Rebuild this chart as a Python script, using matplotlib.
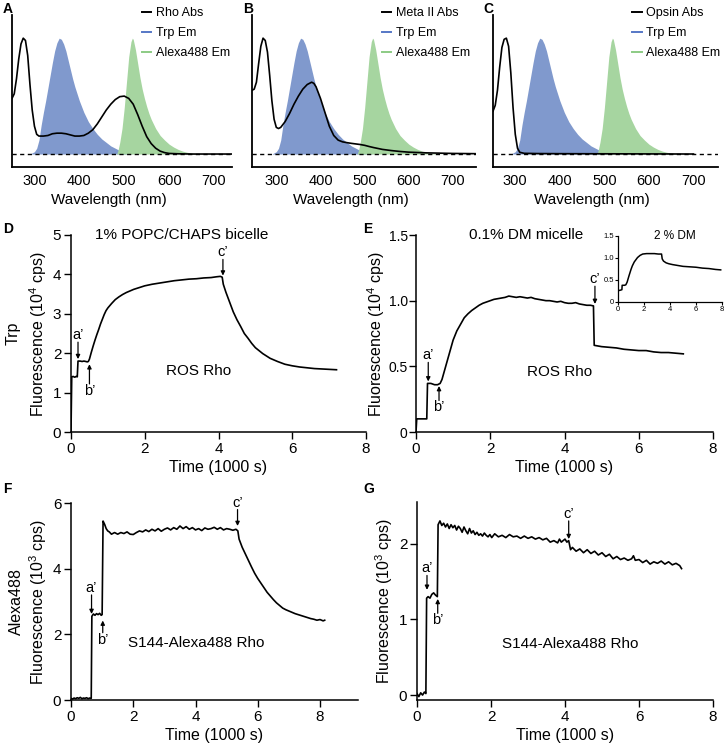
import matplotlib
matplotlib.use("Agg")
import matplotlib.pyplot as plt
from matplotlib.lines import Line2D

plt.rcParams['font.family'] = ['Liberation Sans', 'DejaVu Sans']
plt.rcParams['mathtext.fontset'] = 'custom'
plt.rcParams['mathtext.rm'] = 'Liberation Sans'
plt.rcParams['mathtext.it'] = 'Liberation Sans:italic'
plt.rcParams['mathtext.bf'] = 'Liberation Sans:bold'
plt.rcParams['mathtext.default'] = 'regular'

# ---------------- spectra (normalised) ----------------
trp_wl = [290, 295, 300, 305, 310, 315, 320, 325, 330, 335, 340, 345, 350, 355, 360, 365, 370,
          375, 380, 385, 390, 395, 400, 405, 410, 420, 430, 440, 450, 460, 470, 480, 490, 500, 510, 520]
trp_em = [0, 0.01, 0.02, 0.05, 0.12, 0.25, 0.36, 0.46, 0.57, 0.68, 0.79, 0.89, 0.96, 1.0, 0.99, 0.95, 0.89,
          0.81, 0.73, 0.65, 0.58, 0.52, 0.46, 0.41, 0.36, 0.28, 0.22, 0.17, 0.13, 0.10, 0.07, 0.05, 0.03, 0.015, 0.005, 0]

alexa_wl = [483, 486, 490, 495, 500, 505, 510, 515, 518, 520, 525, 530, 535, 540, 545, 550, 555, 560,
            570, 580, 590, 600, 610, 620, 630, 640, 650, 660, 680]
alexa_em = [0, 0.03, 0.1, 0.22, 0.4, 0.62, 0.84, 0.97, 1.0, 0.99, 0.9, 0.78, 0.66, 0.56, 0.48, 0.41, 0.35, 0.30,
            0.22, 0.16, 0.12, 0.085, 0.06, 0.04, 0.025, 0.015, 0.008, 0.003, 0]

rho_wl = [250, 255, 260, 265, 270, 275, 280, 285, 290, 295, 300, 305, 310, 320, 330, 340, 350, 360, 370,
          380, 390, 400, 410, 420, 430, 440, 450, 460, 470, 480, 490, 500, 510, 520, 530, 540, 550, 560,
          570, 580, 590, 600, 620, 650, 700, 740]
rho_abs = [0.48, 0.52, 0.65, 0.82, 0.95, 1.0, 0.98, 0.85, 0.6, 0.38, 0.24, 0.17, 0.155, 0.155, 0.16, 0.175,
           0.18, 0.18, 0.175, 0.165, 0.155, 0.155, 0.16, 0.18, 0.21, 0.26, 0.32, 0.38, 0.43, 0.47, 0.495, 0.5,
           0.48, 0.43, 0.34, 0.24, 0.15, 0.09, 0.05, 0.025, 0.012, 0.005, 0.002, 0, 0, 0]

meta_wl = [245, 250, 255, 260, 265, 270, 275, 280, 285, 290, 295, 300, 305, 310, 320, 330, 340, 350, 360,
           370, 380, 385, 390, 400, 410, 420, 430, 440, 450, 460, 470, 480, 490, 500, 510, 520, 530, 540,
           560, 580, 600, 640, 700, 750]
meta_abs = [0.55, 0.56, 0.62, 0.78, 0.93, 1.0, 0.98, 0.88, 0.68, 0.46, 0.3, 0.23, 0.22, 0.23, 0.28, 0.35,
            0.43, 0.5, 0.56, 0.6, 0.62, 0.61, 0.58, 0.48, 0.36, 0.24, 0.16, 0.12, 0.105, 0.098, 0.092, 0.087,
            0.082, 0.075, 0.065, 0.056, 0.048, 0.04, 0.03, 0.022, 0.016, 0.01, 0.005, 0.003]

opsin_wl = [250, 255, 260, 265, 270, 275, 280, 285, 290, 295, 300, 305, 310, 320, 350, 400, 500, 600, 700]
opsin_abs = [0.37, 0.42, 0.55, 0.75, 0.92, 0.99, 1.0, 0.93, 0.7, 0.4, 0.17, 0.05, 0.015, 0.006, 0.004,
             0.003, 0.002, 0.001, 0]

wl_ticks = [300, 400, 500, 600, 700]

# ---------------- kinetics ----------------
D_t = [0, 0.02, 0.06, 0.1, 0.14, 0.17, 0.19, 0.25, 0.3, 0.35, 0.4, 0.44, 0.47, 0.5, 0.55, 0.6, 0.65, 0.7,
       0.75, 0.8, 0.85, 0.9, 0.95, 1.0, 1.1, 1.2, 1.3, 1.4, 1.5, 1.6, 1.7, 1.8, 1.9, 2.0, 2.2, 2.4, 2.6, 2.8,
       3.0, 3.2, 3.4, 3.6, 3.8, 3.95, 4.05, 4.1, 4.13, 4.2, 4.3, 4.4, 4.5, 4.6, 4.7, 4.8, 4.9, 5.0, 5.2, 5.4,
       5.6, 5.8, 6.0, 6.2, 6.4, 6.6, 6.8, 7.0, 7.2]
D_f = [0, 1.4, 1.41, 1.39, 1.41, 1.4, 1.8, 1.8, 1.79, 1.8, 1.79, 1.78, 1.79, 1.85, 2.02, 2.18, 2.33, 2.47,
       2.6, 2.74, 2.86, 2.98, 3.08, 3.15, 3.26, 3.36, 3.43, 3.49, 3.54, 3.58, 3.62, 3.65, 3.68, 3.71, 3.75,
       3.78, 3.81, 3.84, 3.86, 3.88, 3.89, 3.91, 3.92, 3.94, 3.95, 3.93, 3.75, 3.55, 3.3, 3.05, 2.85, 2.68,
       2.5, 2.38, 2.25, 2.14, 1.99, 1.87, 1.79, 1.72, 1.68, 1.65, 1.63, 1.61, 1.6, 1.59, 1.58]

E_t = [0, 0.02, 0.1, 0.2, 0.29, 0.31, 0.4, 0.5, 0.58, 0.65, 0.7, 0.8, 0.9, 1.0, 1.1, 1.2, 1.3, 1.4, 1.5,
       1.6, 1.7, 1.8, 1.9, 2.0, 2.1, 2.2, 2.3, 2.4, 2.5, 2.6, 2.7, 2.8, 2.9, 3.0, 3.1, 3.2, 3.3, 3.4, 3.5,
       3.6, 3.7, 3.8, 3.9, 4.0, 4.1, 4.2, 4.3, 4.4, 4.5, 4.6, 4.7, 4.78, 4.8, 4.9, 5.0, 5.2, 5.4, 5.6, 5.8,
       6.0, 6.2, 6.4, 6.6, 6.8, 7.0, 7.2]
E_f = [0, 0.1, 0.1, 0.1, 0.1, 0.37, 0.37, 0.36, 0.36, 0.37, 0.4, 0.5, 0.6, 0.7, 0.77, 0.82, 0.87, 0.9,
       0.925, 0.945, 0.965, 0.98, 0.99, 1.0, 1.01, 1.015, 1.02, 1.025, 1.035, 1.03, 1.025, 1.03, 1.025, 1.02,
       1.025, 1.015, 1.01, 1.005, 1.0, 1.0, 0.995, 0.99, 0.995, 0.985, 0.98, 0.98, 0.985, 0.975, 0.97, 0.965,
       0.965, 0.96, 0.66, 0.655, 0.65, 0.645, 0.64, 0.63, 0.625, 0.62, 0.62, 0.61, 0.605, 0.605, 0.6, 0.595]

inset_t = [0.05, 0.2, 0.3, 0.32, 0.5, 0.6, 0.7, 0.85, 1.0, 1.1, 1.25, 1.5, 1.7, 1.9, 2.2, 2.5, 2.8, 3.1,
           3.35, 3.4, 3.5, 3.7, 3.9, 4.2, 4.6, 5.0, 5.5, 6.0, 6.5, 7.0, 7.5, 7.9]
inset_f = [0.26, 0.27, 0.28, 0.38, 0.38, 0.39, 0.45, 0.6, 0.74, 0.82, 0.91, 1.01, 1.06, 1.09, 1.1, 1.1,
           1.1, 1.09, 1.09, 0.98, 0.93, 0.89, 0.87, 0.85, 0.83, 0.81, 0.8, 0.79, 0.77, 0.76, 0.74, 0.73]

F_t = [0.0, 0.05, 0.1, 0.15, 0.2, 0.25, 0.3, 0.35, 0.4, 0.45, 0.5, 0.55, 0.6, 0.65, 0.67, 0.72, 0.77, 0.82,
       0.87, 0.92, 0.97, 1.0, 1.03, 1.08, 1.13, 1.18, 1.23, 1.3, 1.4, 1.5, 1.6, 1.7, 1.8, 1.9, 2.0, 2.1, 2.2,
       2.3, 2.4, 2.5, 2.6, 2.7, 2.8, 2.9, 3.0, 3.1, 3.2, 3.3, 3.4, 3.5, 3.6, 3.7, 3.8, 3.9, 4.0, 4.1, 4.2,
       4.3, 4.4, 4.5, 4.6, 4.7, 4.8, 4.9, 5.0, 5.1, 5.2, 5.3, 5.36, 5.4, 5.5, 5.6, 5.7, 5.8, 5.9, 6.0, 6.1,
       6.2, 6.3, 6.4, 6.5, 6.6, 6.7, 6.8, 6.9, 7.0, 7.1, 7.2, 7.3, 7.4, 7.5, 7.6, 7.7, 7.8, 7.9, 8.0, 8.1, 8.15]
F_f = [0.05, 0.03, 0.06, 0.04, 0.07, 0.05, 0.08, 0.04, 0.06, 0.05, 0.07, 0.04, 0.06, 0.05, 2.55, 2.62,
       2.58, 2.63, 2.6, 2.64, 2.58, 2.6, 5.45, 5.35, 5.22, 5.15, 5.12, 5.05, 5.1, 5.05, 5.1, 5.07, 5.12,
       5.05, 5.04, 5.1, 5.15, 5.12, 5.18, 5.13, 5.2, 5.15, 5.22, 5.14, 5.2, 5.24, 5.18, 5.25, 5.2, 5.3, 5.22,
       5.28, 5.2, 5.25, 5.18, 5.22, 5.16, 5.24, 5.2, 5.22, 5.26, 5.2, 5.25, 5.18, 5.22, 5.2, 5.17, 5.2, 5.15,
       4.9, 4.65, 4.45, 4.25, 4.05, 3.86, 3.7, 3.56, 3.42, 3.28, 3.17, 3.06, 2.96, 2.88, 2.8, 2.75, 2.71,
       2.67, 2.63, 2.6, 2.57, 2.54, 2.51, 2.48, 2.46, 2.43, 2.45, 2.41, 2.43]

G_t = [0.0, 0.05, 0.1, 0.15, 0.2, 0.24, 0.26, 0.3, 0.35, 0.4, 0.45, 0.5, 0.55, 0.57, 0.62, 0.67, 0.72, 0.77,
       0.82, 0.87, 0.92, 0.97, 1.02, 1.07, 1.12, 1.17, 1.22, 1.27, 1.32, 1.37, 1.42, 1.47, 1.52, 1.57, 1.62,
       1.67, 1.72, 1.77, 1.82, 1.87, 1.92, 1.97, 2.02, 2.1, 2.2, 2.3, 2.4, 2.5, 2.6, 2.7, 2.8, 2.9, 3.0, 3.1,
       3.2, 3.3, 3.4, 3.5, 3.6, 3.7, 3.8, 3.85, 3.9, 4.0, 4.05, 4.1, 4.15, 4.2, 4.3, 4.4, 4.5, 4.6, 4.7, 4.8,
       4.9, 5.0, 5.1, 5.2, 5.3, 5.4, 5.5, 5.6, 5.7, 5.8, 5.85, 5.9, 6.0, 6.1, 6.2, 6.3, 6.4, 6.5, 6.6, 6.7,
       6.8, 6.9, 7.0, 7.1, 7.15]
G_f = [0.02, -0.02, 0.03, 0.0, 0.04, 0.02, 1.28, 1.3, 1.28, 1.33, 1.35, 1.32, 1.3, 2.25, 2.3, 2.24, 2.27,
       2.22, 2.26, 2.2, 2.25, 2.21, 2.24, 2.18, 2.23, 2.2, 2.15, 2.22, 2.17, 2.13, 2.2, 2.14, 2.17, 2.12, 2.15,
       2.11, 2.13, 2.1, 2.14, 2.11, 2.09, 2.12, 2.08, 2.13, 2.09, 2.11, 2.08, 2.12, 2.09, 2.1, 2.07, 2.1, 2.07,
       2.09, 2.06, 2.08, 2.05, 2.07, 2.02, 2.04, 2.01, 2.06, 2.02, 2.06, 2.02, 2.04, 1.92, 1.95, 1.9, 1.93,
       1.88, 1.92, 1.87, 1.9, 1.85, 1.88, 1.83, 1.86, 1.8, 1.83, 1.79, 1.81, 1.78, 1.8, 1.84, 1.78, 1.79, 1.75,
       1.78, 1.73, 1.76, 1.74, 1.77, 1.73, 1.76, 1.72, 1.74, 1.71, 1.67]

time_ticks = [0, 2, 4, 6, 8]
D_yticks = [0, 1, 2, 3, 4, 5]
E_yticks = [0, 0.5, 1.0, 1.5]
E_ylabels = ['0', '0.5', '1.0', '1.5']
F_yticks = [0, 2, 4, 6]
G_yticks = [0, 1, 2]

# ---------------- figure ----------------
W, H = 726, 744
fig = plt.figure(figsize=(W / 100, H / 100), dpi=100)


def px_axes(l, t, r, b):
    return fig.add_axes([l / W, 1 - b / H, (r - l) / W, (b - t) / H])


BLUE_FILL = '#8099cd'
GREEN_FILL = '#a6d5a0'
BLUE_LINE = '#5677c6'
GREEN_LINE = '#8ccb84'

TICK_FS = 11
LABEL_FS = 11.5
NOTE_FS = 11


def style(ax, ticklen=5, fs=TICK_FS, pad=2):
    for s in ['top', 'right']:
        ax.spines[s].set_visible(False)
    for s in ['left', 'bottom']:
        ax.spines[s].set_linewidth(1.1)
    ax.tick_params(direction='out', length=ticklen, width=1.0, labelsize=fs, pad=pad)


def spectrum_panel(rect, xlim, abs_wl, abs_v, abs_label, leg_x):
    ax = px_axes(*rect)
    ax.fill_between(trp_wl, trp_em, 0, color=BLUE_FILL, lw=0)
    ax.fill_between(alexa_wl, alexa_em, 0, color=GREEN_FILL, lw=0)
    ax.plot(abs_wl, abs_v, color='k', lw=1.2)
    ax.axhline(0, color='k', lw=1.0, ls=(0, (3, 2.5)))
    ax.set_xlim(*xlim)
    ax.set_ylim(-0.112, 1.2)
    ax.set_xticks(wl_ticks)
    ax.set_yticks([])
    style(ax, ticklen=0, fs=10.5, pad=5)
    ax.spines['left'].set_linewidth(1.3)
    ax.spines['bottom'].set_linewidth(1.3)
    ax.set_xlabel('Wavelength (nm)', fontsize=11)
    ax.xaxis.set_label_coords(0.44, -0.17)
    handles = [Line2D([], [], color='k', lw=1.4),
               Line2D([], [], color=BLUE_LINE, lw=1.4),
               Line2D([], [], color=GREEN_LINE, lw=1.4)]
    ax.legend(handles, [abs_label, 'Trp Em', 'Alexa488 Em'], loc='upper right',
              bbox_to_anchor=(leg_x, 1.05), frameon=False, fontsize=9, handlelength=0.75,
              handletextpad=0.35, labelspacing=0.62, borderpad=0, borderaxespad=0)
    return ax


axA = spectrum_panel((12, 15, 232, 167), (250, 740), rho_wl, rho_abs, 'Rho Abs', 0.99)
axB = spectrum_panel((252, 15, 476, 167), (245, 752), meta_wl, meta_abs, 'Meta II Abs', 0.973)
axC = spectrum_panel((493, 15, 718, 167), (250, 755), opsin_wl, opsin_abs, 'Opsin Abs', 1.009)


def arrow(ax, x, y_from, y_to, label, text_above):
    ax.annotate('', xy=(x, y_to), xytext=(x, y_from),
                arrowprops=dict(arrowstyle='-|>', lw=0.9, color='k', mutation_scale=6,
                                shrinkA=0, shrinkB=0))
    ax.text(x, y_from, label, ha='center', va='bottom' if text_above else 'top', fontsize=10.5)


# D
axD = px_axes(71, 235, 366, 432)
axD.plot(D_t, D_f, color='k', lw=1.2)
axD.set_xlim(0, 8)
axD.set_ylim(0, 5)
axD.set_xticks(time_ticks)
axD.set_yticks(D_yticks)
style(axD)
axD.set_xlabel('Time (1000 s)', fontsize=LABEL_FS, labelpad=3)
axD.set_ylabel('Fluorescence (10$^{4}$ cps)', fontsize=LABEL_FS)
axD.yaxis.set_label_coords(-0.075, 0.5)
axD.text(-0.197, 0.5, 'Trp', rotation=90, ha='center', va='center', fontsize=LABEL_FS,
         transform=axD.transAxes)
axD.text(0.375, 1.0, '1% POPC/CHAPS bicelle', ha='center', va='center', fontsize=NOTE_FS,
         transform=axD.transAxes)
axD.text(3.45, 1.55, 'ROS Rho', ha='center', va='center', fontsize=NOTE_FS)
arrow(axD, 0.19, 2.28, 1.85, 'a’', True)
arrow(axD, 0.5, 1.22, 1.72, 'b’', False)
arrow(axD, 4.12, 4.38, 3.97, 'c’', True)

# E
axE = px_axes(416, 235, 713, 432)
axE.plot(E_t, E_f, color='k', lw=1.2)
axE.set_xlim(0, 8)
axE.set_ylim(0, 1.5)
axE.set_xticks(time_ticks)
axE.set_yticks(E_yticks)
axE.set_yticklabels(E_ylabels)
style(axE)
axE.tick_params(axis='y', labelsize=10, pad=1)
axE.set_xlabel('Time (1000 s)', fontsize=LABEL_FS, labelpad=3)
axE.set_ylabel('Fluorescence (10$^{4}$ cps)', fontsize=LABEL_FS)
axE.yaxis.set_label_coords(-0.097, 0.5)
axE.text(0.37, 1.0, '0.1% DM micelle', ha='center', va='center', fontsize=NOTE_FS,
         transform=axE.transAxes)
axE.text(3.87, 0.46, 'ROS Rho', ha='center', va='center', fontsize=NOTE_FS)
arrow(axE, 0.33, 0.53, 0.385, 'a’', True)
arrow(axE, 0.62, 0.24, 0.35, 'b’', False)
arrow(axE, 4.82, 1.11, 0.975, 'c’', True)

# inset
axI = px_axes(618, 236, 722, 302)
axI.plot(inset_t, inset_f, color='k', lw=1.1)
axI.set_xlim(0, 8)
axI.set_ylim(0, 1.5)
axI.set_xticks(time_ticks)
axI.set_yticks(E_yticks)
axI.set_yticklabels(E_ylabels)
style(axI, ticklen=2, fs=5.5, pad=1)
axI.spines['left'].set_linewidth(0.9)
axI.spines['bottom'].set_linewidth(0.9)
axI.tick_params(width=0.8)
axI.text(0.55, 1.0, '2 % DM', ha='center', va='center', fontsize=8.5, transform=axI.transAxes)

# F
axF = px_axes(71, 503, 358, 700)
axF.plot(F_t, F_f, color='k', lw=1.2)
axF.set_xlim(0, 9.22)
axF.set_ylim(0, 6)
axF.set_xticks(time_ticks)
axF.set_yticks(F_yticks)
style(axF)
axF.set_xlabel('Time (1000 s)', fontsize=LABEL_FS, labelpad=3)
axF.set_ylabel('Fluorescence (10$^{3}$ cps)', fontsize=LABEL_FS)
axF.yaxis.set_label_coords(-0.075, 0.5)
axF.text(-0.19, 0.5, 'Alexa488', rotation=90, ha='center', va='center', fontsize=LABEL_FS,
         transform=axF.transAxes)
axF.text(4.03, 1.73, 'S144-Alexa488 Rho', ha='center', va='center', fontsize=NOTE_FS)
arrow(axF, 0.66, 3.2, 2.62, 'a’', True)
arrow(axF, 1.02, 2.05, 2.42, 'b’', False)
arrow(axF, 5.35, 5.8, 5.3, 'c’', True)

# G
axG = px_axes(417, 502, 713, 700)
axG.plot(G_t, G_f, color='k', lw=1.2)
axG.set_xlim(0, 8)
axG.set_ylim(-0.065, 2.55)
axG.set_xticks(time_ticks)
axG.set_yticks(G_yticks)
style(axG)
axG.set_xlabel('Time (1000 s)', fontsize=LABEL_FS, labelpad=3)
axG.set_ylabel('Fluorescence (10$^{3}$ cps)', fontsize=LABEL_FS)
axG.yaxis.set_label_coords(-0.075, 0.5)
axG.text(4.13, 0.67, 'S144-Alexa488 Rho', ha='center', va='center', fontsize=NOTE_FS)
arrow(axG, 0.27, 1.58, 1.39, 'a’', True)
arrow(axG, 0.56, 1.08, 1.27, 'b’', False)
arrow(axG, 4.1, 2.3, 2.06, 'c’', True)

# panel letters
for lab, x, y in [('A', 3, 9), ('B', 243, 9), ('C', 483, 9), ('D', 3, 229),
                  ('E', 363, 229), ('F', 3, 489), ('G', 363, 489)]:
    fig.text(x / W, 1 - y / H, lab, fontsize=10, fontweight='bold', ha='left', va='center')

fig.savefig('out.png', dpi=100)
